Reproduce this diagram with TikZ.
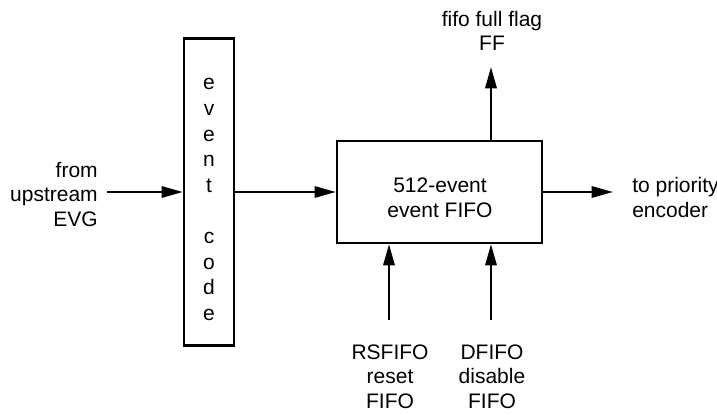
\documentclass[tikz,border=0pt]{standalone}
\usepackage{fontspec}
\setmainfont{Liberation Sans}
\usetikzlibrary{arrows.meta}
\begin{document}
\begin{tikzpicture}[x=0.75pt,y=-0.75pt,
  blk/.style={draw, line width=1.7pt, inner sep=0pt},
  lbl/.style={font=\fontsize{15.75pt}{18.4pt}\selectfont, inner sep=0pt, align=center},
  arr/.style={-{Triangle[length=16pt,width=8.5pt]}, line width=1.7pt}]
\useasboundingbox (0,0) rectangle (717,414);
% blocks
\node[blk, minimum width=37.5pt, minimum height=230.25pt] (ec) at (209,192) {};
\node[lbl, font=\fontsize{15.75pt}{19.2pt}\selectfont] (ectext) at (209,199.6)
  {e\\v\\e\\n\\t\\[19.2pt]c\\o\\d\\e};
\node[blk, minimum width=153.75pt, minimum height=76.5pt] (fifo) at (439.5,192) {};
\node[lbl] (fifotext) at (440,197.7) {512-event\\event FIFO};
% labels
\node[lbl, align=right, anchor=east] (srctext) at (98,194.5) {from\\upstream\\EVG};
\node[lbl] (fftext) at (492,30.9) {fifo full flag\\FF};
\node[lbl, align=left, anchor=west] (dsttext) at (632,197.7) {to priority\\encoder};
\node[lbl] (rstext) at (390,376.4) {RSFIFO\\reset\\FIFO};
\node[lbl] (dftext) at (492,376.4) {DFIFO\\disable\\FIFO};
% free ends
\coordinate (src) at (107,192);
\coordinate (dst) at (613,192);
\coordinate (fft) at (491,67);
\coordinate (rsb) at (389,320);
\coordinate (dfb) at (491,320);
% connectors
\draw[arr] (src) -- (ec.west);
\draw[arr] (ec.east) -- (fifo.west);
\draw[arr] (fifo.east) -- (dst);
\draw[arr] (fifo.north -| fft) -- (fft);
\draw[arr] (rsb) -- (rsb |- fifo.south);
\draw[arr] (dfb) -- (dfb |- fifo.south);
\end{tikzpicture}
\end{document}
